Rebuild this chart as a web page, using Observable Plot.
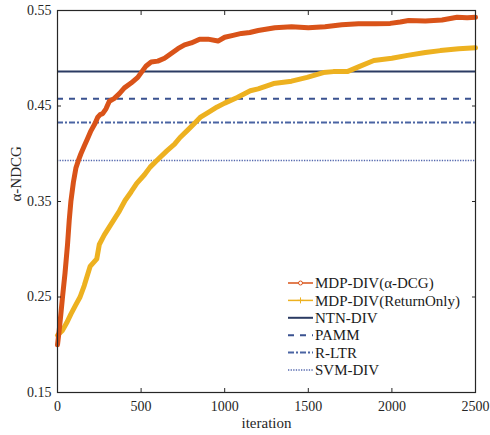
<!DOCTYPE html>
<html><head><meta charset="utf-8">
<script src="https://cdn.jsdelivr.net/npm/d3@7"></script>
<script src="https://cdn.jsdelivr.net/npm/@observablehq/plot@0.6"></script>
<style>body{margin:0;background:#fff}</style>
</head><body><div id="chart"></div>
<script>
const iterA = [0,10,20,30,45,60,70,80,95,110,125,140,160,180,200,225,240,255,270,290,310,340,370,400,440,480,505,530,560,600,640,680,720,760,800,850,900,960,1000,1050,1100,1150,1200,1300,1400,1500,1600,1700,1800,1900,1990,2050,2100,2200,2300,2390,2450,2500];
const valA  = [0.200,0.215,0.232,0.250,0.275,0.305,0.330,0.350,0.370,0.385,0.393,0.400,0.408,0.416,0.424,0.432,0.438,0.441,0.442,0.447,0.455,0.458,0.463,0.469,0.474,0.480,0.486,0.492,0.496,0.497,0.500,0.505,0.510,0.514,0.516,0.520,0.520,0.518,0.522,0.524,0.526,0.527,0.529,0.532,0.533,0.532,0.533,0.535,0.536,0.536,0.5365,0.538,0.5395,0.539,0.540,0.543,0.5425,0.543];
const iterB = [0,30,55,80,110,135,160,195,235,250,280,334,370,404,440,474,520,554,600,654,700,733,780,820,853,900,955,1000,1075,1153,1200,1292,1400,1493,1590,1650,1733,1800,1892,2000,2093,2200,2290,2400,2500];
const valB  = [0.210,0.215,0.223,0.232,0.242,0.250,0.262,0.282,0.290,0.305,0.315,0.330,0.340,0.351,0.360,0.369,0.378,0.386,0.394,0.403,0.410,0.417,0.425,0.432,0.438,0.443,0.449,0.453,0.459,0.466,0.468,0.4735,0.476,0.480,0.485,0.486,0.486,0.491,0.4976,0.500,0.503,0.506,0.508,0.510,0.511];
const baselineNames = ["NTN-DIV","PAMM","R-LTR","SVM-DIV"];
const baselineValues = [0.486,0.4575,0.4327,0.393];
const seriesNames = ["MDP-DIV(α-DCG)","MDP-DIV(ReturnOnly)"];
const xTicks = [0,500,1000,1500,2000,2500];
const yTicks = [0.15,0.25,0.35,0.45,0.55];

const colA = "#D95319", colB = "#EDB120";
const baseStyles = [
  {stroke:"#2B3B63", dash:null, w:2},
  {stroke:"#3A5290", dash:"6,6", w:2},
  {stroke:"#4A64A3", dash:"6,2,2,2", w:2},
  {stroke:"#5468AE", dash:"1.3,1.3", w:1.6}
];
const dataA = iterA.map((x,i)=>({x, y:valA[i]}));
const dataB = iterB.map((x,i)=>({x, y:valB[i]}));
const baseData = baselineNames.map((n,i)=>({name:n, y:baselineValues[i], i}));

const serif = "'Liberation Serif', 'Times New Roman', serif";
const fmt = d3.format(".2f");
const none = () => "";
const plot = Plot.plot({
  width: 490, height: 435,
  marginLeft: 57, marginRight: 15, marginTop: 10, marginBottom: 43,
  x: {domain:[0,2500]},
  y: {domain:[0.15,0.55]},
  style: {fontFamily: serif, fontSize:"14px", color:"#262626", background:"#fff"},
  marks: [
    ...baseData.map(d => Plot.ruleY([d.y], {stroke: baseStyles[d.i].stroke, strokeWidth: baseStyles[d.i].w, strokeDasharray: baseStyles[d.i].dash})),
    Plot.line(dataB, {x:"x", y:"y", stroke: colB, strokeWidth: 5, strokeLinejoin:"round"}),
    Plot.line(dataA, {x:"x", y:"y", stroke: colA, strokeWidth: 5, strokeLinejoin:"round"}),
    Plot.axisX(xTicks, {anchor:"bottom", tickSize:-4, tickPadding:13, tickFormat: d => String(d), label:null, fontSize:14}),
    Plot.axisX(xTicks, {anchor:"top", tickSize:-4, tickFormat: none, label:null}),
    Plot.axisY(yTicks, {anchor:"left", tickSize:-4, tickPadding:10, tickFormat: fmt, label:null, fontSize:14}),
    Plot.axisY(yTicks, {anchor:"right", tickSize:-4, tickFormat: none, label:null}),
    Plot.frame({stroke:"#262626", strokeWidth:1.2}),
    Plot.text(["iteration"], {frameAnchor:"bottom", dy:35, fontSize:15}),
    Plot.text(["α-NDCG"], {frameAnchor:"left", dx:-41, rotate:-90, fontSize:15})
  ]
});
document.getElementById("chart").appendChild(plot);

// legend inside plot area (bottom-right)
const svg = d3.select(plot);
const lg = svg.append("g").attr("font-family", serif).attr("font-size",15).attr("fill","#1a1a1a").attr("text-anchor","start");
const items = [
  {name:seriesNames[0], stroke:colA, w:1.5, dash:null, marker:"o"},
  {name:seriesNames[1], stroke:colB, w:1.5, dash:null, marker:"+"},
  ...baselineNames.map((n,i)=>({name:n, stroke:baseStyles[i].stroke, w:baseStyles[i].w, dash:baseStyles[i].dash}))
];
items.forEach((it,i)=>{
  const y = 283 + i*17.4, x0 = 288, x1 = 313;
  lg.append("line").attr("x1",x0).attr("x2",x1).attr("y1",y).attr("y2",y)
    .attr("stroke",it.stroke).attr("stroke-width",it.w).attr("stroke-dasharray",it.dash);
  if (it.marker==="o") lg.append("circle").attr("cx",(x0+x1)/2).attr("cy",y).attr("r",2).attr("fill","#fff").attr("stroke",it.stroke).attr("stroke-width",1);
  if (it.marker==="+") lg.append("path").attr("d",`M${(x0+x1)/2-3},${y}h6M${(x0+x1)/2},${y-3}v6`).attr("stroke",it.stroke).attr("stroke-width",1);
  lg.append("text").attr("x",x1+2).attr("y",y).attr("dy","0.35em").attr("text-anchor","start").text(it.name);
});
</script>
</body></html>
